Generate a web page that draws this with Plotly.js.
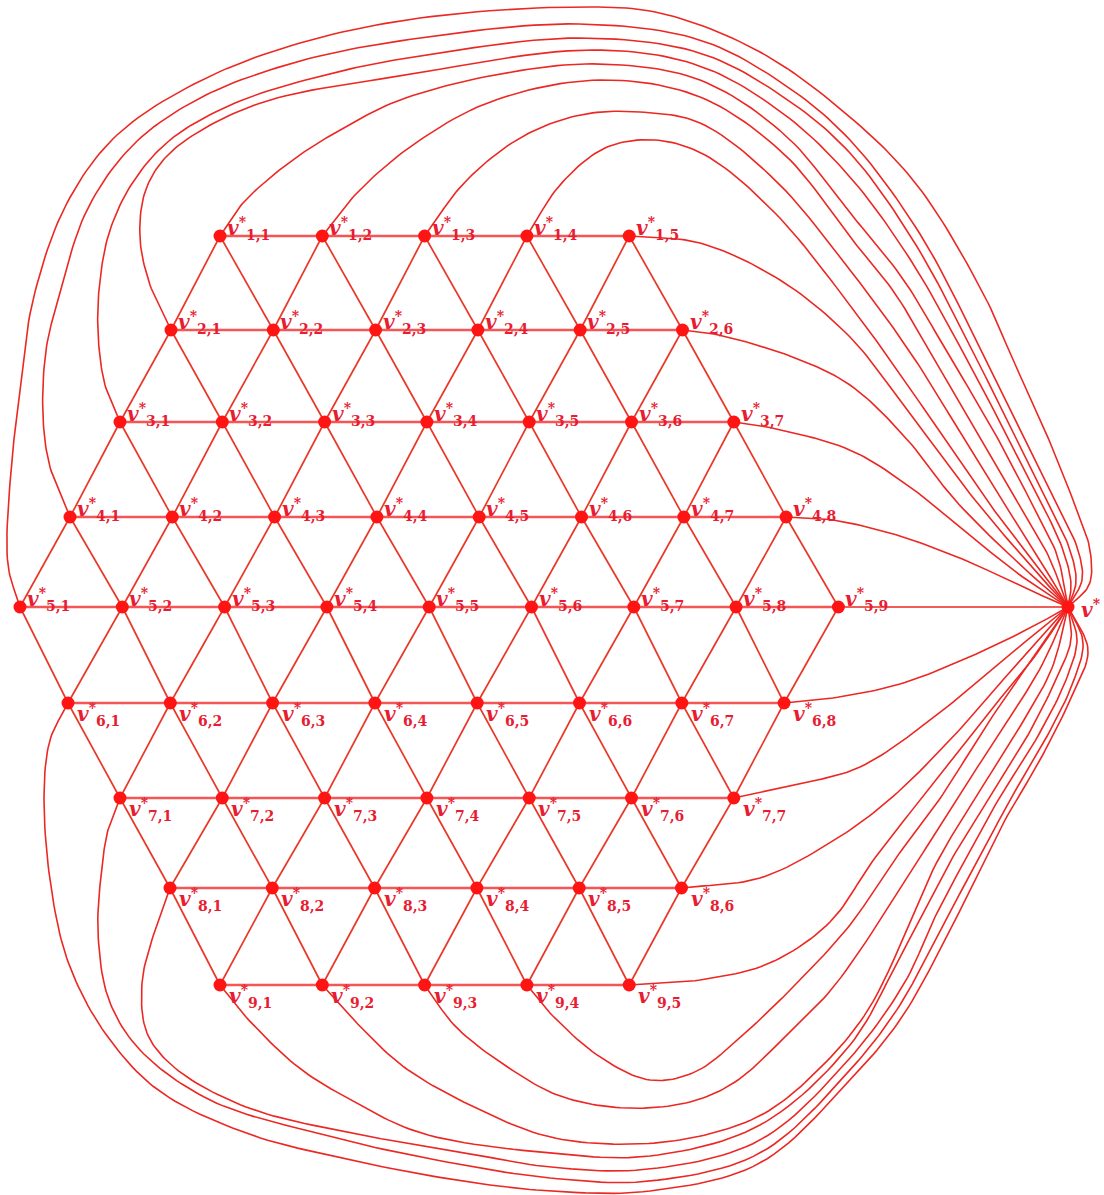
<!DOCTYPE html>
<html><head><meta charset="utf-8">
<script src="https://cdn.plot.ly/plotly-3.0.1.min.js"></script>
<style>html,body{margin:0;padding:0;background:#fff}#chart{width:1104px;height:1195px}</style>
</head><body><div id="chart"></div>
<script>
// ---- data: triangular grid v*_{i,j} and hub v* ----
const rowSizes = [5, 6, 7, 8, 9, 8, 7, 6, 5];
const rowY = [236, 330, 422, 517, 607, 703, 798, 888, 985];
const rowStartX = [220, 171, 120, 70, 20, 68, 120, 170, 220];
const colStep = 102.3;
const hub = [1068, 607];

// edges from boundary vertices to v*: [row, col] and guide points
const topFrom = [[1,4],[1,3],[1,2],[1,1],[2,1],[3,1],[4,1],[5,1]];
const topVia = [
  [[560,185],[605,148],[655,140],[705,155],[775,213],[850,305],[883,350],[940,432],[988,502],[1033,560]],
  [[465,182],[520,138],[580,115],[640,112],[700,123],[775,180],[850,270],[910,352],[960,432],[1002,500],[1040,560]],
  [[355,195],[410,147],[490,102],[600,80],[700,97],[785,155],[850,237],[894,292],[930,352],[975,430],[1016,500],[1048,555]],
  [[243,203],[290,162],[340,130],[400,100],[500,74],[600,64],[700,80],[785,135],[850,213],[903,279],[947,352],[993,430],[1030,500],[1057,555]],
  [[150,285],[140,238],[145,192],[165,158],[205,128],[270,100],[400,76],[593,50],[700,66],[785,115],[850,177],[910,259],[963,352],[1004,430],[1040,500],[1063,550],[1071,584]],
  [[105,385],[98,333],[100,280],[110,230],[133,182],[170,140],[235,103],[333,73],[420,56],[579,38],[700,53],[785,98],[850,153],[916,245],[973,352],[1012,430],[1047,500],[1070,550],[1076,582]],
  [[50,467],[43,417],[46,350],[58,300],[87,210],[133,145],[200,98],[300,61],[420,38],[579,24],[700,40],[785,85],[850,140],[920,234],[982,352],[1020,430],[1055,500],[1078,550],[1082,580]],
  [[8,565],[11,470],[19,400],[33,300],[67,203],[117,135],[200,81],[300,43],[420,18],[579,7],[660,13],[760,52],[850,117],[917,185],[983,293],[1013,360],[1046,433],[1073,500],[1090,550],[1089,585]]
];
const rightFrom = [[1,5],[2,6],[3,7],[4,8],[5,9],[6,8],[7,7],[8,6],[9,5]];
const rightVia = [
  [[700,243],[780,280],[850,337],[905,407],[975,500],[1030,565]],
  [[714,334],[790,356],[850,385],[905,437],[955,500],[1015,560]],
  [[767,427],[850,450],[910,487],[967,533],[1020,575]],
  [[833,520],[900,536],[967,561],[1025,588]],
  [],
  [[833,698],[900,684],[967,658],[1030,628]],
  [[800,784],[860,767],[933,718],[1000,662],[1040,630]],
  [[760,878],[833,841],[889,800],[950,740],[1010,672],[1045,632]],
  [[700,980],[770,963],[830,922],[872,862],[920,800],[985,717],[1035,656]]
];
const bottomFrom = [[9,4],[9,3],[9,2],[9,1],[8,1],[7,1],[6,1]];
const bottomVia = [
  [[550,1013],[600,1057],[650,1080],[695,1072],[745,1033],[797,983],[850,925],[893,862],[939,800],[990,720],[1032,660]],
  [[456,1027],[509,1068],[560,1096],[625,1108],[690,1102],[735,1082],[785,1037],[835,985],[917,862],[956,800],[1005,725],[1042,665]],
  [[351,1017],[404,1067],[474,1107],[550,1137],[638,1144],[709,1134],[765,1113],[815,1073],[868,1010],[937,862],[974,800],[1018,730],[1052,668]],
  [[246,1017],[298,1067],[351,1100],[421,1133],[550,1153],[650,1156],[760,1125],[850,1045],[900,957],[950,862],[988,800],[1028,735],[1058,675],[1071,640]],
  [[154,933],[142,983],[147,1033],[175,1068],[246,1107],[351,1133],[456,1151],[550,1167],[650,1169],[760,1140],[850,1058],[905,982],[935,917],[965,860],[1000,797],[1038,736],[1066,680],[1077,640]],
  [[108,830],[102,867],[98,933],[109,1000],[140,1050],[210,1100],[316,1133],[421,1157],[550,1178],[650,1181],[760,1153],[850,1070],[900,1005],[940,930],[977,862],[1010,800],[1045,740],[1072,685],[1083,642]],
  [[50,740],[44,800],[53,900],[70,967],[105,1033],[158,1090],[246,1133],[351,1160],[456,1180],[550,1191],[650,1191],[760,1163],[850,1080],[900,1020],[940,950],[975,880],[1005,820],[1040,760],[1070,700],[1088,650]]
];

// ---- build ----
const RED = 'rgb(235,40,35)';
const LABEL = 'rgb(232,28,50)';
function pos(i, j) { return [rowStartX[i-1] + colStep*(j-1), rowY[i-1]]; }

// centripetal Catmull-Rom through guide points
function smoothPath(pts, steps) {
  const out = [];
  const n = pts.length;
  const P = (k) => {
    if (k < 0) return [2*pts[0][0]-pts[1][0], 2*pts[0][1]-pts[1][1]];
    if (k >= n) return [2*pts[n-1][0]-pts[n-2][0], 2*pts[n-1][1]-pts[n-2][1]];
    return pts[k];
  };
  const tj = (ti, a, b) => ti + Math.pow(Math.hypot(b[0]-a[0], b[1]-a[1]), 0.5) + 1e-6;
  for (let s = 0; s < n-1; s++) {
    const p0 = P(s-1), p1 = P(s), p2 = P(s+1), p3 = P(s+2);
    const t0 = 0, t1 = tj(t0,p0,p1), t2 = tj(t1,p1,p2), t3 = tj(t2,p2,p3);
    for (let m = 0; m < steps; m++) {
      const t = t1 + (t2-t1)*m/steps;
      const lerp = (a, b, ta, tb) => [(tb-t)/(tb-ta)*a[0] + (t-ta)/(tb-ta)*b[0], (tb-t)/(tb-ta)*a[1] + (t-ta)/(tb-ta)*b[1]];
      const A1 = lerp(p0,p1,t0,t1), A2 = lerp(p1,p2,t1,t2), A3 = lerp(p2,p3,t2,t3);
      const B1 = lerp(A1,A2,t0,t2), B2 = lerp(A2,A3,t1,t3);
      out.push(lerp(B1,B2,t1,t2));
    }
  }
  out.push(pts[n-1]);
  return out;
}

const hx = [], hy = [], dx = [], dy = [];
for (let i = 1; i <= 9; i++) {
  for (let j = 1; j <= rowSizes[i-1]; j++) {
    const p = pos(i, j);
    if (j < rowSizes[i-1]) { const q = pos(i, j+1); hx.push(p[0], q[0], null); hy.push(p[1], q[1], null); }
    if (i < 9) {
      const nbrs = i < 5 ? [j, j+1] : [j-1, j];
      nbrs.forEach(k => { if (k >= 1 && k <= rowSizes[i]) { const q = pos(i+1, k); dx.push(p[0], q[0], null); dy.push(p[1], q[1], null); } });
    }
  }
}

const traces = [];
traces.push({x: hx, y: hy, mode: 'lines', line: {color: 'rgb(246,85,85)', width: 2.6}, hoverinfo: 'skip'});
traces.push({x: dx, y: dy, mode: 'lines', line: {color: 'rgb(233,55,40)', width: 1.7}, hoverinfo: 'skip'});

const cx = [], cy = [];
function addCurves(froms, vias) {
  froms.forEach((f, k) => {
    const p = pos(f[0], f[1]);
    const pts = smoothPath([p].concat(vias[k]).concat([hub]), 14);
    pts.forEach(a => { cx.push(a[0]); cy.push(a[1]); });
    cx.push(null); cy.push(null);
  });
}
addCurves(topFrom, topVia);
addCurves(rightFrom, rightVia);
addCurves(bottomFrom, bottomVia);
traces.push({x: cx, y: cy, mode: 'lines', line: {color: RED, width: 1.6}, hoverinfo: 'skip'});

const nx = [], ny = [];
const annotations = [];
function ann(x, y, text, xs, ys) {
  annotations.push({x: x, y: y, xref: 'x', yref: 'y', showarrow: false, text: text,
    xanchor: 'left', yanchor: 'middle', xshift: xs, yshift: ys, borderpad: 0,
    font: {family: 'DejaVu Serif', size: 20, color: LABEL}});
}
for (let i = 1; i <= 9; i++) {
  for (let j = 1; j <= rowSizes[i-1]; j++) {
    const p = pos(i, j);
    nx.push(p[0]); ny.push(p[1]);
    const t = '<b><i>v</i><sup>*</sup><sub>' + i + ',' + j + '</sub></b>';
    if (i <= 5) ann(p[0], p[1], t, 6, 8);
    else ann(p[0], p[1], t, 8, -11);
  }
}
nx.push(hub[0]); ny.push(hub[1]);
ann(hub[0], hub[1], '<b><i>v</i><sup>*</sup></b>', 12, -2);

traces.push({x: nx, y: ny, mode: 'markers', marker: {size: 13, color: 'rgb(255,20,20)'}, hoverinfo: 'skip'});

const layout = {
  width: 1104, height: 1195, margin: {l: 0, r: 0, t: 0, b: 0},
  paper_bgcolor: '#fff', plot_bgcolor: '#fff', showlegend: false,
  xaxis: {range: [0, 1104], visible: false, fixedrange: true},
  yaxis: {range: [1195, 0], visible: false, fixedrange: true},
  annotations: annotations
};
Plotly.newPlot('chart', traces, layout, {staticPlot: true, displayModeBar: false});
</script></body></html>
